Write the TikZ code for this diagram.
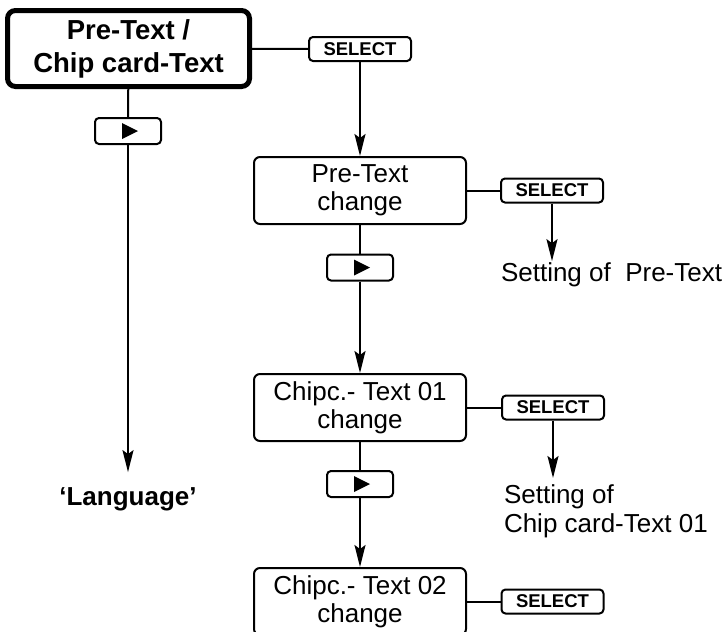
\documentclass[tikz,border=0pt]{standalone}
\usepackage{fontspec}
\setmainfont{Liberation Sans}
\usetikzlibrary{arrows.meta,positioning}

\begin{document}
\begin{tikzpicture}[x=1pt,y=-1pt,line width=2pt,
every node/.style={draw,rounded corners=6pt,line width=2pt,align=center},
menu/.style={minimum width=212pt,minimum height=67pt,inner sep=0pt,
  font=\fontsize{26}{28}\selectfont},
head/.style={line width=5pt,rounded corners=8pt,minimum width=242pt,
  minimum height=76pt,inner sep=0pt,font=\bfseries\fontsize{27.5}{33}\selectfont},
sel/.style={rounded corners=4pt,minimum width=102pt,minimum height=24pt,
  inner sep=0pt,font=\bfseries\fontsize{18.5}{19}\selectfont},
nxt/.style={rounded corners=4pt,minimum width=66pt,minimum height=26pt,
  path picture={\fill[sharp corners] ([xshift=-6pt,yshift=8pt]path picture bounding box.center)
    -- ++(16pt,-8pt) -- ++(-16pt,-8pt) -- cycle;}},
txt/.style={draw=none,rounded corners=0pt,inner sep=0pt,align=left,
  font=\fontsize{26}{29}\selectfont},
arr/.style={-{Stealth[length=22pt,width=11pt,inset=4pt]}}]
\path[use as bounding box] (0,0) rectangle (726,632);
\clip (0,0) rectangle (726,632);
% left branch
\node[head] (Head) at (128.5,48.5) {Pre-Text /\\Chip card-Text};
\node[nxt] (N0) at (128,131) {};
\node[txt,font=\bfseries\fontsize{26}{30}\selectfont,anchor=base,inner ysep=14pt]
  (Lang) at (128,505) {‘Language’};
% menu column
\node[sel] (S0) at (360,49) {SELECT};
\node[menu] (PT) at (360,190.5) {Pre-Text\\change};
\node[nxt] (N1) at (360,267.5) {};
\node[menu] (C1) at (360,407.5) {Chipc.- Text 01\\change};
\node[nxt] (N2) at (360,484) {};
\node[menu] (C2) at (360,601.5) {Chipc.- Text 02\\change};
% select keys and settings
\node[sel] (S1) at (552,190.5) {SELECT};
\node[txt,anchor=base west] (Set1) at (500,281) {Setting of~ Pre-Text};
\node[sel] (S2) at (553,407.5) {SELECT};
\node[txt,anchor=north west,inner ysep=6pt] (Set2) at (503,478)
  {Setting of\\Chip card-Text 01};
\node[sel] (S3) at (552.5,601.5) {SELECT};
\draw (Head)--(N0);
\draw[arr] (N0)--(Lang.north);
\draw (Head)--(S0);
\draw[arr] (S0)--(PT);
\draw (PT)--(N1);
\draw[arr] (N1)--(C1);
\draw (C1)--(N2);
\draw[arr] (N2)--(C2);
\draw (PT)--(S1);
\draw (C1)--(S2);
\draw (C2)--(S3);
\draw[arr] (S1)--(S1.south |- Set1.north);
\draw[arr] (S2)--(S2.south |- Set2.north);
\end{tikzpicture}
\end{document}
